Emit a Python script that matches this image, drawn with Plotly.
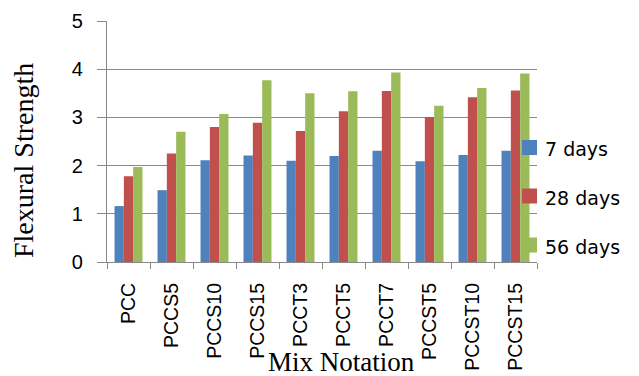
import plotly.graph_objects as go

# Mix designs and flexural strength at each curing age
mixes = ["PCC", "PCCS5", "PCCS10", "PCCS15", "PCCT3", "PCCT5", "PCCT7",
         "PCCST5", "PCCST10", "PCCST15"]
days_7 = [1.16, 1.49, 2.11, 2.21, 2.10, 2.20, 2.31, 2.09, 2.22, 2.31]
days_28 = [1.78, 2.25, 2.80, 2.89, 2.72, 3.13, 3.55, 3.01, 3.42, 3.56]
days_56 = [1.97, 2.70, 3.07, 3.77, 3.50, 3.54, 3.93, 3.24, 3.61, 3.91]
series_names = ["7 days", "28 days", "56 days"]
y_ticks = [0, 1, 2, 3, 4, 5]

colors = ["#4F81BD", "#C0504D", "#9BBB59"]
W, H = 639, 376
L, R, T, B = 107, 102, 21, 114
PW, PH = W - L - R, H - T - B
AXIS_GRAY = "#898989"


def px_x(x):
    return (x - L) / PW


def px_y(y):
    return (H - B - y) / PH


fig = go.Figure()
for name, vals, col in zip(series_names, [days_7, days_28, days_56], colors):
    fig.add_trace(go.Bar(x=mixes, y=vals, name=name, marker_color=col,
                         marker_line_width=0, showlegend=False))

fig.update_layout(
    width=W, height=H,
    margin=dict(l=L, r=R, t=T, b=B, pad=0, autoexpand=False),
    paper_bgcolor="white", plot_bgcolor="white",
    barmode="group", bargap=0.35, bargroupgap=0,
    font=dict(family="Liberation Sans", color="black"),
    xaxis=dict(
        type="category", tickson="boundaries", ticks="outside", ticklen=6,
        tickcolor=AXIS_GRAY, tickwidth=1.3, showline=True, linecolor=AXIS_GRAY,
        linewidth=1.3, tickangle=-90, tickfont=dict(size=19.5),
        ticklabelstandoff=12, showgrid=False, automargin=False,
    ),
    yaxis=dict(
        range=[0, 5], tickvals=y_ticks, ticks="outside", ticklen=9,
        tickcolor=AXIS_GRAY, tickwidth=1.3, showline=True, linecolor=AXIS_GRAY,
        linewidth=1.3, showgrid=True, gridcolor=AXIS_GRAY, gridwidth=1.3,
        zeroline=False, tickfont=dict(size=20), ticklabelstandoff=10,
        automargin=False,
    ),
)

# Axis titles
fig.add_annotation(text="Flexural Strength", xref="paper", yref="paper",
                   x=px_x(24), y=px_y(161), xanchor="center", yanchor="middle",
                   textangle=-90, showarrow=False,
                   font=dict(family="Liberation Serif", size=28, color="black"))
fig.add_annotation(text="Mix Notation", xref="paper", yref="paper",
                   x=px_x(341), y=px_y(362), xanchor="center", yanchor="middle",
                   showarrow=False,
                   font=dict(family="Liberation Serif", size=27, color="black"))

# Legend: coloured squares with labels to the right of the plot
legend_y = [147.5, 196, 245]
for name, col, cy in zip(series_names, colors, legend_y):
    fig.add_shape(type="rect", xref="paper", yref="paper",
                  x0=px_x(522), x1=px_x(537), y0=px_y(cy + 7.5), y1=px_y(cy - 7.5),
                  fillcolor=col, line_width=0, layer="above")
    fig.add_annotation(text=name, xref="paper", yref="paper",
                       x=px_x(543), y=px_y(cy + 1.5), xanchor="left", yanchor="middle",
                       showarrow=False,
                       font=dict(family="DejaVu Sans", size=19, color="black"))

fig.write_html("out.html")
